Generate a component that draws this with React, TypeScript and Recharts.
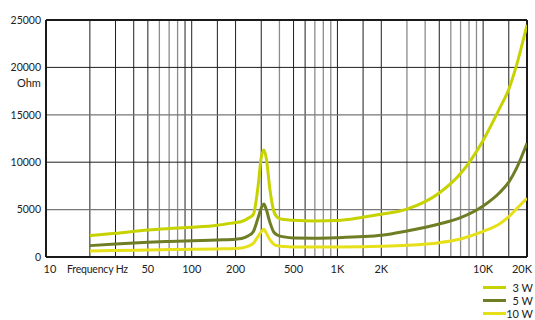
import React from 'react';
import {
  LineChart,
  Line,
  XAxis,
  YAxis,
  ReferenceLine,
} from 'recharts';

// frequency points (Hz) where the curves were read
const FREQS = [20, 30, 50, 70, 100, 150, 200, 220, 245, 265, 285, 300, 313, 325, 345, 365, 390, 430, 500, 700, 1000, 1500, 2000, 3000, 5000, 7000, 10000, 13000, 15000, 17000, 20000];

// impedance (Ohm) per power tap
const W3 = [2250, 2500, 2850, 3000, 3130, 3350, 3650, 3750, 4100, 4500, 7400, 10500, 11300, 10400, 7000, 4900, 4150, 3950, 3870, 3800, 3850, 4200, 4500, 5050, 6750, 8800, 12300, 15700, 17700, 20300, 24500];
const W5 = [1200, 1380, 1550, 1640, 1720, 1800, 1880, 1950, 2250, 2700, 4100, 5150, 5600, 5000, 3600, 2650, 2300, 2120, 2000, 1990, 2040, 2150, 2300, 2750, 3480, 4150, 5380, 6800, 7900, 9400, 12000];
const W10 = [630, 690, 740, 780, 810, 850, 890, 950, 1150, 1450, 2150, 2650, 2920, 2500, 1800, 1350, 1170, 1100, 1060, 1050, 1060, 1090, 1130, 1230, 1510, 1900, 2700, 3500, 4250, 5100, 6200];

const X_TICKS = [10, 50, 100, 200, 500, 1000, 2000, 10000, 20000];
const Y_TICKS = [0, 5000, 10000, 15000, 20000, 25000];

// vertical grid lines, dark ones and lighter ones
const GRID_DARK = [20, 30, 40, 50, 90, 100, 150, 200, 300, 500, 600, 1000, 1500, 2000, 5000, 10000, 15000];
const GRID_LIGHT = [60, 70, 80, 400, 700, 800, 900, 3000, 4000, 6000, 7000, 8000, 9000];

const SERIES = [
  { key: 'w3', name: '3 W', color: '#c6d300' },
  { key: 'w5', name: '5 W', color: '#6f7d24' },
  { key: 'w10', name: '10 W', color: '#e6e01a' },
];

const data = FREQS.map((f, i) => ({ f, w3: W3[i], w5: W5[i], w10: W10[i] }));

const FONT = 'Lato, "Open Sans", sans-serif';

const fmtFreq = (v: number) => (v >= 1000 ? `${v / 1000}K` : `${v}`);

const FreqTick = (props: any) => {
  const { x, y, payload } = props;
  let dx = 0;
  if (payload.value === 10) dx = 4;
  if (payload.value === 20000) dx = -5;
  return (
    <text x={x + dx} y={y} dy="0.71em" textAnchor="middle" fontSize={11} fill="#222" fontFamily={FONT}>
      {fmtFreq(payload.value)}
    </text>
  );
};

export default function App() {
  return (
    <div style={{ position: 'relative', width: 535, height: 320, overflow: 'hidden' }}>
      <style>{'body{margin:0;overflow:hidden}'}</style>
      <LineChart width={535} height={320} data={data} margin={{ top: 20, right: 8, left: 0, bottom: 33 }}>
        <XAxis
          dataKey="f"
          type="number"
          scale="log"
          domain={[10, 20000]}
          ticks={X_TICKS}
          interval={0}
          allowDataOverflow
          tick={<FreqTick />}
          tickLine={false}
          tickSize={0}
          tickMargin={8}
          height={30}
          axisLine={{ stroke: '#1a1a1a', strokeWidth: 2 }}
        />
        <YAxis
          type="number"
          domain={[0, 25000]}
          ticks={Y_TICKS}
          interval={0}
          width={46}
          tickLine={false}
          tickSize={0}
          tickMargin={5}
          tick={{ fontSize: 10.5, fill: '#222', fontFamily: FONT }}
          axisLine={{ stroke: '#1a1a1a', strokeWidth: 2 }}
        />
        {GRID_LIGHT.map((v) => (
          <ReferenceLine key={`l${v}`} x={v} stroke="#8c8c8c" strokeWidth={1.3} />
        ))}
        {GRID_DARK.map((v) => (
          <ReferenceLine key={`d${v}`} x={v} stroke="#1e1e1e" strokeWidth={1} />
        ))}
        {[5000, 15000].map((v) => (
          <ReferenceLine key={`h${v}`} y={v} stroke="#777" strokeWidth={1.2} />
        ))}
        {[10000, 20000].map((v) => (
          <ReferenceLine key={`h${v}`} y={v} stroke="#1e1e1e" strokeWidth={1} />
        ))}
        <ReferenceLine y={25000} stroke="#1a1a1a" strokeWidth={2} />
        <ReferenceLine x={20000} stroke="#1a1a1a" strokeWidth={2} />
        {SERIES.map((s) => (
          <Line
            key={s.key}
            type="monotone"
            dataKey={s.key}
            name={s.name}
            stroke={s.color}
            strokeWidth={3}
            dot={false}
            isAnimationActive={false}
          />
        ))}
      </LineChart>
      <div style={{ position: 'absolute', left: 17, top: 76, width: 22, textAlign: 'center', fontFamily: FONT, fontSize: 11, lineHeight: '14px', color: '#222' }}>
        Ohm
      </div>
      <div style={{ position: 'absolute', left: 67, top: 262, fontFamily: FONT, fontSize: 10.5, letterSpacing: '-0.2px', lineHeight: '14px', color: '#222', whiteSpace: 'nowrap' }}>
        Frequency Hz
      </div>
      <div style={{ position: 'absolute', left: 483, top: 281, fontFamily: FONT, fontSize: 11, lineHeight: '13px', color: '#222' }}>
        {SERIES.map((s) => (
          <div key={s.key} style={{ display: 'flex', alignItems: 'center', height: 13 }}>
            <div style={{ width: 23, height: 3, background: s.color }} />
            <div style={{ width: 27, textAlign: 'right', whiteSpace: 'nowrap' }}>{s.name}</div>
          </div>
        ))}
      </div>
    </div>
  );
}
